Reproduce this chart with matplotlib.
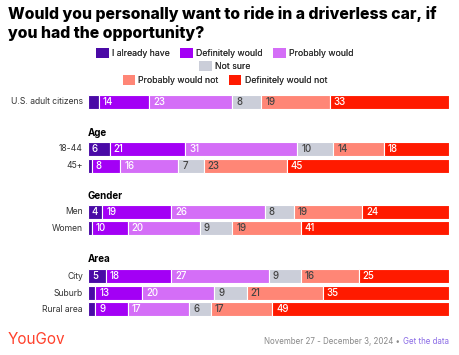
import matplotlib.pyplot as plt
from matplotlib.patches import Patch

plt.rcParams["font.family"] = ["Inter", "DejaVu Sans"]

# data
groups = ["U.S. adult citizens", "18-44", "45+", "Men", "Women", "City", "Suburb", "Rural area"]
headers = ["Age", "Gender", "Area"]
answers = ["I already have", "Definitely would", "Probably would", "Not sure",
           "Probably would not", "Definitely would not"]
already_have = [3, 6, 1, 4, 1, 5, 2, 2]
definitely_would = [14, 21, 8, 19, 10, 18, 13, 9]
probably_would = [23, 31, 16, 26, 20, 27, 20, 17]
not_sure = [8, 10, 7, 8, 9, 9, 9, 6]
probably_not = [19, 14, 23, 19, 19, 16, 21, 17]
definitely_not = [33, 18, 45, 24, 41, 25, 35, 49]
series = [already_have, definitely_would, probably_would, not_sure, probably_not, definitely_not]

colors = ["#4a0aa6", "#a300f5", "#d46ef7", "#cbced9", "#ff8676", "#ff1a00"]
text_colors = ["white", "white", "white", "#444444", "#444444", "white"]

# layout (row positions, in row units)
row_pos = [0, 2.81, 3.83, 6.59, 7.6, 10.48, 11.5, 12.45]
header_pos = [1.86, 5.63, 9.46]

fig = plt.figure(figsize=(4.59, 3.55), dpi=100)
ax = fig.add_axes([88 / 459, 1 - 317.5 / 355, 361 / 459, 224 / 355])

left = [0] * len(groups)
for vals, col, tcol in zip(series, colors, text_colors):
    ax.barh(row_pos, vals, left=left, height=0.84, color=col,
            edgecolor="white", linewidth=0.8)
    for y, v, l in zip(row_pos, vals, left):
        if v >= 4:
            ax.text(l + 1.1, y, str(v), color=tcol, fontsize=7,
                    va="center", ha="left", fontweight="medium")
    left = [a + b for a, b in zip(left, vals)]

for y, name in zip(row_pos, groups):
    ax.text(-1.4, y, name, ha="right", va="center", fontsize=6.2, color="#333333")
for y, name in zip(header_pos, headers):
    ax.text(0, y, name, ha="left", va="center", fontsize=7,
            fontweight="bold", color="black")

ax.set_xlim(0, 100)
ax.set_ylim(12.95, -0.5)
ax.axis("off")

fig.text(8 / 459, 1 - 6 / 355,
         "Would you personally want to ride in a driverless car, if\nyou had the opportunity?",
         ha="left", va="top", fontsize=11.4, fontweight="heavy",
         linespacing=1.25, color="black")

handles = [Patch(facecolor=c, edgecolor="none") for c in colors]
legend_rows = [[0, 1, 2], [3], [4, 5]]
legend_y = [53, 66, 80]
for idx, yy in zip(legend_rows, legend_y):
    leg = fig.legend([handles[i] for i in idx], [answers[i] for i in idx],
                     loc="center", bbox_to_anchor=(225 / 459, 1 - yy / 355),
                     ncol=len(idx), frameon=False, fontsize=6.3,
                     handlelength=1.4, handleheight=1.4, handletextpad=0.4,
                     columnspacing=1.2, borderpad=0, borderaxespad=0)
    for t in leg.get_texts():
        t.set_color("#333333")
    fig.add_artist(leg)

fig.text(8 / 459, 1 - 340 / 355, "YouGov", color="#ff412c", fontsize=11,
         ha="left", va="center")
link = fig.text(449 / 459, 1 - 341 / 355, "Get the data", color="#8a6be6",
                fontsize=5.7, ha="right", va="center")
fig.canvas.draw()
bb = link.get_window_extent()
fig.text((bb.x0 - 1) / 459, 1 - 341 / 355, "November 27 - December 3, 2024 \u2022 ",
         color="#888888", fontsize=5.7, ha="right", va="center")

fig.savefig("out.png", dpi=100)
